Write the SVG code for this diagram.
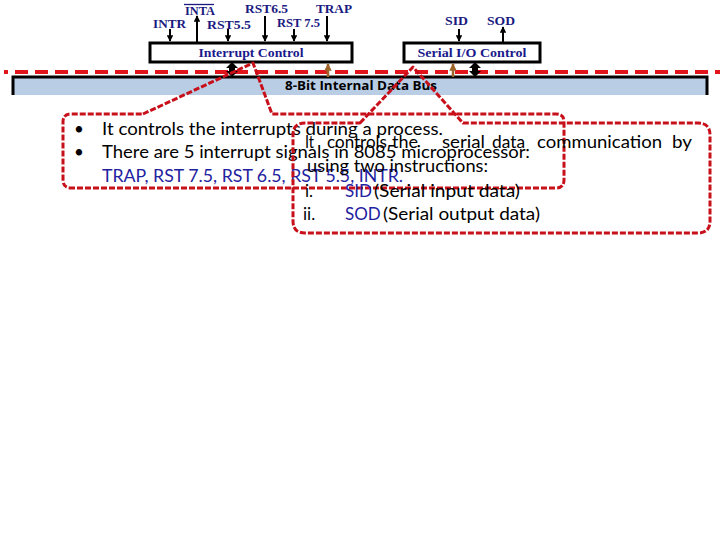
<svg xmlns="http://www.w3.org/2000/svg" width="720" height="540" viewBox="0 0 720 540">
<defs>
<style>
.lbl{font-family:"Liberation Serif","Times New Roman",serif;font-weight:bold;font-size:13px;fill:#1a1a80}
.boxt{font-family:"Liberation Serif","Times New Roman",serif;font-weight:bold;font-size:13px;fill:#1a1a8c}
.box{fill:#fff;stroke:#000;stroke-width:3}
.sig{stroke:#000;stroke-width:2;fill:none}
.brown{stroke:#9c6428;stroke-width:2.5;fill:none}
.callout{fill:none;stroke:#c8101a;stroke-width:3;stroke-dasharray:6 2;stroke-linejoin:round}
.ct{font-family:Lato,"Liberation Sans",sans-serif;font-size:17px;fill:#000}
.ct2{font-family:Lato,"Liberation Sans",sans-serif;font-size:17px;fill:#000}
.blue{fill:#1f22a0}
.bus{font-family:"Open Sans","Liberation Sans",sans-serif;font-weight:bold;font-size:12px;fill:#000}
</style>
<marker id="ah" viewBox="0 0 10 10" refX="9" refY="5" markerWidth="3.2" markerHeight="3.2" orient="auto">
<path d="M0,0 L10,5 L0,10 Z" fill="#000"/>
</marker>
<marker id="ahb" viewBox="0 0 10 10" refX="9" refY="5" markerWidth="3" markerHeight="3" orient="auto">
<path d="M0,0 L10,5 L0,10 Z" fill="#9c6428"/>
</marker>
</defs>
<rect width="720" height="540" fill="#fff"/>

<g id="data-bus">
<rect x="13" y="77" width="694" height="18" fill="#b9cde5"/>
<path d="M13,95 V77 H707 V95" fill="none" stroke="#000" stroke-width="3"/>
<text class="bus" x="361" y="90" text-anchor="middle" textLength="152" lengthAdjust="spacingAndGlyphs">8-Bit Internal Data Bus</text>
</g>

<g id="interrupt-control">
<rect class="box" x="150" y="43" width="202" height="19"/>
<text class="boxt" x="251" y="57" text-anchor="middle" textLength="105" lengthAdjust="spacingAndGlyphs">Interrupt Control</text>
</g>

<g id="serial-io-control">
<rect class="box" x="404" y="43" width="136" height="19"/>
<text class="boxt" x="472" y="57" text-anchor="middle" textLength="109" lengthAdjust="spacingAndGlyphs">Serial I/O Control</text>
</g>

<g id="signal-labels">
<text class="lbl" x="153" y="28" textLength="33" lengthAdjust="spacingAndGlyphs">INTR</text>
<text class="lbl" x="185" y="15" textLength="30" lengthAdjust="spacingAndGlyphs">INTA</text>
<line x1="184" y1="4.5" x2="214" y2="4.5" stroke="#1a1a80" stroke-width="1.3"/>
<text class="lbl" x="207" y="29" textLength="44" lengthAdjust="spacingAndGlyphs">RST5.5</text>
<text class="lbl" x="245" y="13" textLength="43" lengthAdjust="spacingAndGlyphs">RST6.5</text>
<text class="lbl" x="277" y="27" textLength="43" lengthAdjust="spacingAndGlyphs">RST 7.5</text>
<text class="lbl" x="316" y="13" textLength="36" lengthAdjust="spacingAndGlyphs">TRAP</text>
<text class="lbl" x="445" y="25" textLength="23" lengthAdjust="spacingAndGlyphs">SID</text>
<text class="lbl" x="487" y="25" textLength="28" lengthAdjust="spacingAndGlyphs">SOD</text>
</g>

<path d="M4,72 H8" stroke="#e1141c" stroke-width="4"/>
<line x1="15" y1="72" x2="720" y2="72" stroke="#e1141c" stroke-width="4" stroke-dasharray="13 7"/>

<g id="connectors">
<line class="sig" x1="170" y1="29" x2="170" y2="41" marker-end="url(#ah)"/>
<line class="sig" x1="197" y1="42" x2="197" y2="16" marker-end="url(#ah)"/>
<line class="sig" x1="228" y1="29" x2="228" y2="41" marker-end="url(#ah)"/>
<line class="sig" x1="265" y1="16" x2="265" y2="41" marker-end="url(#ah)"/>
<line class="sig" x1="294" y1="29" x2="294" y2="41" marker-end="url(#ah)"/>
<line class="sig" x1="327" y1="16" x2="327" y2="41" marker-end="url(#ah)"/>
<line class="sig" x1="459" y1="29" x2="459" y2="41" marker-end="url(#ah)"/>
<line class="sig" x1="503" y1="42" x2="503" y2="27" marker-end="url(#ah)"/>
<path d="M232,62 L238,68 L235,68 L235,71 L238,71 L232,77 L226,71 L229,71 L229,68 L226,68 Z" fill="#000"/>
<path d="M475,62 L481,68 L478,68 L478,71 L481,71 L475,77 L469,71 L472,71 L472,68 L469,68 Z" fill="#000"/>
<line class="brown" x1="328" y1="77" x2="328" y2="64" marker-end="url(#ahb)"/>
<line class="brown" x1="453" y1="77" x2="453" y2="64" marker-end="url(#ahb)"/>
</g>

<g id="callout-interrupt">
<path class="callout" d="M143,114 L253,63 L272,114 L556,114 Q564,114 564,122 L564,180 Q564,188 556,188 L71,188 Q63,188 63,180 L63,122 Q63,114 71,114 Z"/>
<text class="ct" x="74" y="135">•</text>
<text class="ct" x="102" y="135" textLength="341" lengthAdjust="spacingAndGlyphs">It controls the interrupts during a process.</text>
<text class="ct" x="74" y="158">•</text>
<text class="ct" x="102" y="158" textLength="428" lengthAdjust="spacingAndGlyphs">There are 5 interrupt signals in 8085 microprocessor:</text>
<text class="ct blue" x="102" y="182" textLength="301" lengthAdjust="spacingAndGlyphs">TRAP, RST 7.5, RST 6.5, RST 5.5, INTR.</text>
</g>

<g id="callout-serial">
<path class="callout" d="M360,123 L413,67 L463,123 L698,123 Q710,123 710,135 L710,221 Q710,233 698,233 L305,233 Q293,233 293,221 L293,135 Q293,123 305,123 Z"/>
<text class="ct2" x="305" y="148" textLength="9" lengthAdjust="spacingAndGlyphs">It</text>
<text class="ct2" x="327" y="148" textLength="60" lengthAdjust="spacingAndGlyphs">controls</text>
<text class="ct2" x="392" y="148" textLength="26" lengthAdjust="spacingAndGlyphs">the</text>
<text class="ct2" x="442" y="148" textLength="43" lengthAdjust="spacingAndGlyphs">serial</text>
<text class="ct2" x="492" y="148" textLength="33" lengthAdjust="spacingAndGlyphs">data</text>
<text class="ct2" x="537" y="148" textLength="125" lengthAdjust="spacingAndGlyphs">communication</text>
<text class="ct2" x="672" y="148" textLength="20" lengthAdjust="spacingAndGlyphs">by</text>
<text class="ct2" x="307" y="172" textLength="181" lengthAdjust="spacingAndGlyphs">using two instructions:</text>
<text class="ct" x="305" y="197">i.</text>
<text class="ct blue" x="345" y="197">SID</text>
<text class="ct" x="374" y="197" textLength="146" lengthAdjust="spacingAndGlyphs">(Serial input data)</text>
<text class="ct" x="303" y="220">ii.</text>
<text class="ct blue" x="345" y="220">SOD</text>
<text class="ct" x="383" y="220" textLength="157" lengthAdjust="spacingAndGlyphs">(Serial output data)</text>
</g>
</svg>
